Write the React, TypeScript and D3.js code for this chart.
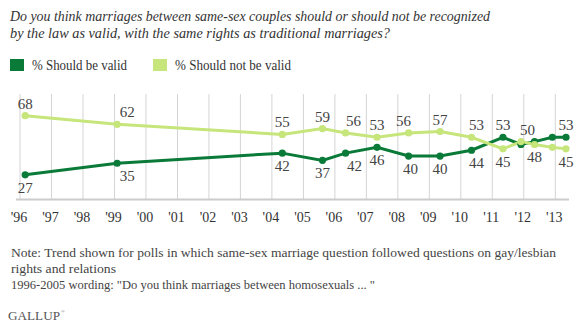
import React from "react";
import * as d3 from "d3";

const W = 585;
const H = 336;

const pollDates = ["1996-03-01", "1999-02-01", "2004-05-01", "2005-08-10", "2006-05-05", "2007-05-05", "2008-05-05", "2009-05-05", "2010-05-05", "2011-05-05", "2011-11-30", "2012-05-05", "2012-11-28", "2013-05-05"];
const shouldBeValid = [27, 35, 42, 37, 42, 46, 40, 40, 44, 53, 48, 50, 53, 53];
const shouldNotBeValid = [68, 62, 55, 59, 56, 53, 56, 57, 53, 45, 50, 48, 46, 45];
const labeled = [true, true, true, true, true, true, true, true, true, true, false, true, false, true];
const tickYears = [1996, 1997, 1998, 1999, 2000, 2001, 2002, 2003, 2004, 2005, 2006, 2007, 2008, 2009, 2010, 2011, 2012, 2013];
const tickLabels = ["'96", "'97", "'98", "'99", "'00", "'01", "'02", "'03", "'04", "'05", "'06", "'07", "'08", "'09", "'10", "'11", "'12", "'13"];
const seriesNames = ["% Should be valid", "% Should not be valid"];
const titleLines = [
  "Do you think marriages between same-sex couples should or should not be recognized",
  "by the law as valid, with the same rights as traditional marriages?",
];
const noteLines = [
  "Note: Trend shown for polls in which same-sex marriage question followed questions on gay/lesbian",
  "rights and relations",
  "1996-2005 wording: \"Do you think marriages between homosexuals ... \"",
];

// style-only: widths of text runs measured on the reference
const titleWidths = [480, 380];
const noteWidths = [545, 105, 364];
const legendWidths = [95, 116];

// style-only horizontal nudges for data labels (by poll index)
const labelNudge: Record<number, number> = { 1: 10, 4: 8, 6: -5, 8: 5, 11: -7 };
const labelNudgeLow: Record<number, number> = { 1: 10, 4: 9, 6: 2, 8: 5, 11: 0 };

const DARK = "#0a7a38";
const LIGHT = "#c6e57a";
const F = { fontFamily: "\"Liberation Serif\"" };

export default function App() {
  const parse = d3.timeParse("%Y-%m-%d");
  const dates = pollDates.map((d) => parse(d) as Date);
  const x = d3
    .scaleTime()
    .domain([new Date(1996, 0, 1), new Date(2013, 0, 1)])
    .range([20, 555.3]);
  const y = d3.scaleLinear().domain([10, 83]).range([199.3, 94]);

  const line = d3
    .line<number>()
    .x((_, i) => x(dates[i]))
    .y((v) => y(v))
    .curve(d3.curveLinear);

  const series = [
    { name: seriesNames[0], values: shouldBeValid, color: DARK },
    { name: seriesNames[1], values: shouldNotBeValid, color: LIGHT },
  ];

  return (
    <svg width={W} height={H} style={{ position: "absolute", left: 0, top: 0, background: "#fff" }}>
      {titleLines.map((t, i) => (
        <text
          key={i}
          x={10}
          y={21 + i * 16.5}
          fontSize={14.5}
          fontStyle="italic"
          fill="#333"
          style={F}
          textLength={titleWidths[i]}
          lengthAdjust="spacingAndGlyphs"
        >
          {t}
        </text>
      ))}

      {/* legend */}
      {series.map((s, i) => (
        <g key={s.name} transform={`translate(${i === 0 ? 10 : 153},59)`}>
          <rect width={14} height={12} fill={s.color} />
          <text
            x={22}
            y={11}
            fontSize={14}
            fill="#333"
            style={F}
            textLength={legendWidths[i]}
            lengthAdjust="spacingAndGlyphs"
          >
            {s.name}
          </text>
        </g>
      ))}

      {/* gridlines */}
      {tickYears.map((yr) => (
        <line
          key={yr}
          x1={x(new Date(yr, 0, 1))}
          x2={x(new Date(yr, 0, 1))}
          y1={94}
          y2={199}
          stroke="#d4d4d4"
          strokeWidth={1}
        />
      ))}
      <line x1={16} x2={569} y1={199.5} y2={199.5} stroke="#cccccc" strokeWidth={2} />
      {tickYears.map((yr, i) => (
        <text
          key={yr}
          x={x(new Date(yr, 0, 1)) - 1}
          y={222}
          textAnchor="middle"
          fontSize={14}
          fill="#333"
          style={F}
        >
          {tickLabels[i]}
        </text>
      ))}

      {/* lines */}
      {series.map((s) => (
        <path key={s.name} d={line(s.values) || ""} fill="none" stroke={s.color} strokeWidth={3} />
      ))}
      {series.map((s) =>
        s.values.map((v, i) => (
          <circle key={s.name + i} cx={x(dates[i])} cy={y(v)} r={3.6} fill={s.color} />
        ))
      )}

      {/* data labels */}
      {dates.map((d, i) => {
        if (!labeled[i]) return null;
        const a = shouldBeValid[i];
        const b = shouldNotBeValid[i];
        const hi = Math.max(a, b);
        const lo = Math.min(a, b);
        const cx = x(d);
        return (
          <g key={i} fontSize={15} fill="#444" textAnchor="middle">
            <text x={cx + (labelNudge[i] || 0)} y={y(hi) - 7} style={F}>
              {hi}
            </text>
            <text x={cx + (labelNudgeLow[i] || 0)} y={y(lo) + 18} style={F}>
              {lo}
            </text>
          </g>
        );
      })}

      {/* notes */}
      {noteLines.map((t, i) => (
        <text
          key={i}
          x={11}
          y={257 + i * 16}
          fontSize={13}
          fill="#444"
          style={F}
          textLength={noteWidths[i]}
          lengthAdjust="spacingAndGlyphs"
        >
          {t}
        </text>
      ))}
      <text x={8} y={320} fontSize={13} fill="#555" style={F} textLength={52} lengthAdjust="spacingAndGlyphs">
        GALLUP
      </text>
      <text x={61} y={313} fontSize={5} fill="#777" style={F}>
        ®
      </text>
    </svg>
  );
}
